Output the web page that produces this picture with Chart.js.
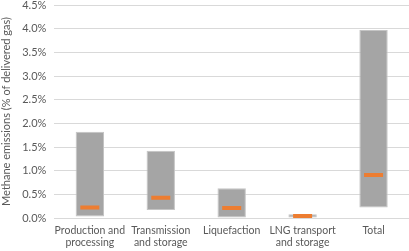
<!DOCTYPE html>
<html>
<head>
<meta charset="utf-8">
<script src="https://cdn.jsdelivr.net/npm/chart.js@4"></script>
<style>
  html, body { margin: 0; padding: 0; background: #fff; }
  #wrap { width: 409px; height: 251px; }
</style>
</head>
<body>
<div id="wrap"><canvas id="chart"></canvas></div>
<script>
// categories (two-line labels)
var categories = [
  ["Production and", "processing"],
  ["Transmission", "and storage"],
  ["Liquefaction"],
  ["LNG transport", "and storage"],
  ["Total"]
];
// range of estimates, % of delivered gas
var lowValues  = [0.03, 0.17, 0.00, 0.00, 0.22];
var highValues = [1.82, 1.42, 0.63, 0.08, 3.97];
// central estimate
var midValues  = [0.22, 0.43, 0.21, 0.04, 0.91];

var ranges = lowValues.map(function(lo, i){ return [lo, highValues[i]]; });

Chart.defaults.font.family = "Lato, 'Liberation Sans', sans-serif";
Chart.defaults.color = "#595959";

var ctx = document.getElementById("chart");
var myChart = new Chart(ctx, {
  data: {
    labels: categories,
    datasets: [{
      type: "line",
      label: "Central",
      data: midValues,
      showLine: false,
      pointStyle: "line",
      pointRadius: 9.5,
      pointHoverRadius: 9.5,
      pointBorderWidth: 4,
      pointHoverBorderWidth: 4,
      pointBorderColor: "#ED7D31",
      pointBackgroundColor: "#ED7D31",
      order: 0
    }, {
      type: "bar",
      label: "Range",
      data: ranges,
      backgroundColor: "#A5A5A5",
      borderColor: "#C4C4C4",
      borderWidth: 1,
      borderSkipped: false,
      categoryPercentage: 0.8,
      barPercentage: 0.5,
      order: 1
    }]
  },
  options: {
    responsive: true,
    maintainAspectRatio: false,
    animation: false,
    layout: { autoPadding: false, padding: 0 },
    plugins: {
      legend: { display: false },
      tooltip: { enabled: false }
    },
    scales: {
      x: {
        afterFit: function(scale) {
          scale.height = 33;
        },
        grid: { display: false, drawTicks: false },
        border: { display: false },
        ticks: { font: { size: 10.5, lineHeight: 1.2 }, maxRotation: 0, autoSkip: false, padding: 6 }
      },
      y: {
        min: 0,
        max: 4.5,
        afterFit: function(scale) {
          // keep the top gridline close to the canvas edge
          scale.paddingTop = 5;
          scale.paddingBottom = 5;
        },
        grid: { color: "#D9D9D9", lineWidth: 1, drawTicks: false },
        border: { display: false },
        ticks: {
          stepSize: 0.5,
          padding: 8,
          font: { size: 11, lineHeight: 0.8 },
          callback: function(v){ return v.toFixed(1) + "%"; }
        },
        title: {
          display: true,
          text: "Methane emissions (% of delivered gas)",
          font: { size: 11 },
          padding: { top: 0, bottom: 1 }
        }
      }
    }
  }
});
</script>
</body>
</html>
